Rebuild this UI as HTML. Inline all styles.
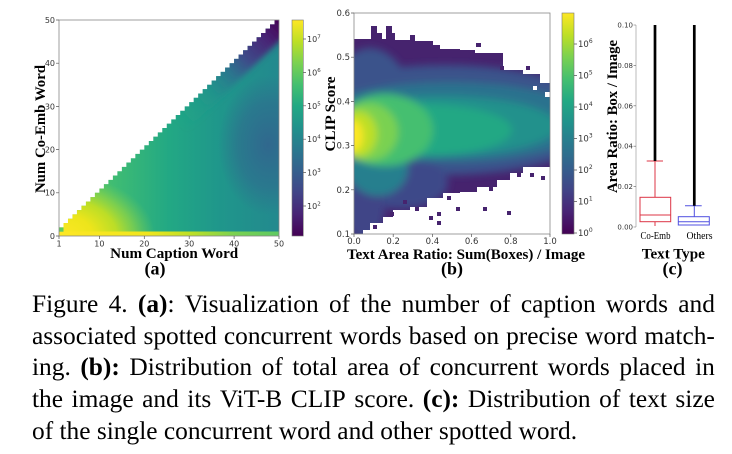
<!DOCTYPE html>
<html><head><meta charset="utf-8">
<style>
html,body{margin:0;padding:0;background:#fff;}
body{width:732px;height:454px;overflow:hidden;position:relative;}
.ln{position:absolute;left:32px;width:683px;height:31.7px;display:flex;justify-content:space-between;white-space:nowrap;font-family:"Liberation Serif",serif;font-size:25.4px;line-height:31.7px;color:#000;}
.ln2{position:absolute;left:32px;white-space:nowrap;font-family:"Liberation Serif",serif;font-size:25.4px;line-height:31.7px;color:#000;}
</style></head><body>
<svg width="732" height="290" viewBox="0 0 732 290" style="position:absolute;left:0;top:0">
<defs>
 <linearGradient id="vir" x1="0" y1="0" x2="0" y2="1">
  <stop offset="0" stop-color="#fde725"/><stop offset=".1" stop-color="#bddf26"/><stop offset=".2" stop-color="#7ad151"/><stop offset=".3" stop-color="#44bf70"/><stop offset=".4" stop-color="#22a884"/><stop offset=".5" stop-color="#21918c"/><stop offset=".6" stop-color="#2a788e"/><stop offset=".7" stop-color="#355f8d"/><stop offset=".8" stop-color="#414487"/><stop offset=".9" stop-color="#482475"/><stop offset="1" stop-color="#440154"/>
 </linearGradient>
 <clipPath id="clipA"><path d="M59,236V227.36h4.49v-4.32h4.49v-4.32h4.49v-4.32h4.49v-4.32h4.49v-4.32h4.49v-4.32h4.49v-4.32h4.49v-4.32h4.49v-4.32h4.49v-4.32h4.49v-4.32h4.49v-4.32h4.49v-4.32h4.49v-4.32h4.49v-4.32h4.49v-4.32h4.49v-4.32h4.49v-4.32h4.49v-4.32h4.49v-4.32h4.49v-4.32h4.49v-4.32h4.49v-4.32h4.49v-4.32h4.49v-4.32h4.49v-4.32h4.49v-4.32h4.49v-4.32h4.49v-4.32h4.49v-4.32h4.49v-4.32h4.49v-4.32h4.49v-4.32h4.49v-4.32h4.49v-4.32h4.49v-4.32h4.49v-4.32h4.49v-4.32h4.49v-4.32h4.49v-4.32h4.49v-4.32h4.49v-4.32h4.49v-4.32h4.49v-4.32h4.49v-4.32h4.49v-4.32h4.49v-4.32h4.49v-4.32H279V236Z"/></clipPath>
 <linearGradient id="aBase" gradientUnits="userSpaceOnUse" x1="59" y1="0" x2="279" y2="0">
  <stop offset="0" stop-color="#6ccd5a"/><stop offset=".25" stop-color="#3fbc73"/><stop offset=".5" stop-color="#22a884"/><stop offset=".72" stop-color="#1f978b"/><stop offset="1" stop-color="#23898e"/>
 </linearGradient>
 <radialGradient id="aBlue">
  <stop offset="0" stop-color="#31668e" stop-opacity=".95"/><stop offset=".6" stop-color="#2f6b8e" stop-opacity=".6"/><stop offset="1" stop-color="#2f6b8e" stop-opacity="0"/>
 </radialGradient>
 <linearGradient id="aDiag" gradientUnits="userSpaceOnUse" x1="175" y1="119" x2="279" y2="20">
  <stop offset="0" stop-color="#22a884" stop-opacity="0"/><stop offset=".3" stop-color="#21918c" stop-opacity=".5"/><stop offset=".5" stop-color="#2c728e" stop-opacity=".9"/><stop offset=".65" stop-color="#3e4a89"/><stop offset=".85" stop-color="#482475"/><stop offset="1" stop-color="#440154"/>
 </linearGradient>
 <radialGradient id="aYel">
  <stop offset="0" stop-color="#fde725"/><stop offset=".35" stop-color="#ede51b"/><stop offset=".6" stop-color="#c2df23" stop-opacity=".95"/><stop offset=".78" stop-color="#9fda3a" stop-opacity=".6"/><stop offset="1" stop-color="#7ad151" stop-opacity="0"/>
 </radialGradient>
 <linearGradient id="aBot" gradientUnits="userSpaceOnUse" x1="59" y1="0" x2="279" y2="0">
  <stop offset="0" stop-color="#fde725"/><stop offset=".4" stop-color="#f1e51d"/><stop offset=".6" stop-color="#bddf26"/><stop offset=".8" stop-color="#7ad151"/><stop offset="1" stop-color="#5ec962"/>
 </linearGradient>
 <filter id="blA" x="-20%" y="-20%" width="140%" height="140%"><feGaussianBlur stdDeviation="3"/></filter>
 <filter id="blB" x="-20%" y="-20%" width="140%" height="140%"><feGaussianBlur stdDeviation="4"/></filter>
 <clipPath id="clipB"><path d="M354,234V39H371V26H377V33H382V39H386V26H392V33H395V40H410V35H415V41H433V45H440V49H460V50H475V53H503V70H523V74H540V83H550V167H523V173H510V180H497V187H477V192H460V193H443V198H427V207H410V210H393V217H383V223H370V230H363V234Z"/></clipPath>
</defs>

<!-- Panel (a) -->
<g clip-path="url(#clipA)">
 <rect x="59" y="20" width="220" height="216" fill="url(#aBase)"/>
 <ellipse cx="268" cy="145" rx="50" ry="70" fill="url(#aBlue)"/>
 <line x1="175" y1="118.8" x2="290" y2="9" stroke="url(#aDiag)" stroke-width="32" filter="url(#blA)"/>
 <ellipse cx="60" cy="236" rx="95" ry="62" fill="url(#aYel)"/>
 <rect x="59" y="231.5" width="220" height="4.5" fill="url(#aBot)"/>
 <rect x="59" y="227.4" width="4.5" height="4.3" fill="#5ec962"/>
</g>
<rect x="59" y="20" width="220" height="216" fill="none" stroke="#888" stroke-width="0.8"/>
<g stroke="#555" stroke-width="0.7">
 <path d="M56,20H59M56,63.2H59M56,106.4H59M56,149.6H59M56,192.8H59M56,236H59"/>
 <path d="M59,236V239M99.4,236V239M144.3,236V239M189.2,236V239M234.1,236V239M279,236V239"/>
</g>
<g font-family="DejaVu Sans, sans-serif" font-size="8" fill="#333">
 <g text-anchor="end">
  <text x="55" y="23">50</text><text x="55" y="66">40</text><text x="55" y="109.3">30</text><text x="55" y="152.5">20</text><text x="55" y="195.7">10</text><text x="55" y="239">0</text>
 </g>
 <g text-anchor="middle">
  <text x="59" y="246.5">1</text><text x="99.4" y="246.5">10</text><text x="144.3" y="246.5">20</text><text x="189.2" y="246.5">30</text><text x="234.1" y="246.5">40</text><text x="279" y="246.5">50</text>
 </g>
</g>
<!-- colorbar (a) -->
<rect x="292" y="20" width="11.3" height="216" fill="url(#vir)" stroke="#777" stroke-width="0.6"/>
<g stroke="#555" stroke-width="0.7">
 <path d="M303.3,39H306M303.3,72.4H306M303.3,105.8H306M303.3,139.2H306M303.3,172.6H306M303.3,206H306"/>
</g>
<g font-family="DejaVu Sans, sans-serif" font-size="8" fill="#333">
 <text x="307" y="42">10<tspan dy="-3.5" font-size="5.5">7</tspan></text>
 <text x="307" y="75.4">10<tspan dy="-3.5" font-size="5.5">6</tspan></text>
 <text x="307" y="108.8">10<tspan dy="-3.5" font-size="5.5">5</tspan></text>
 <text x="307" y="142.2">10<tspan dy="-3.5" font-size="5.5">4</tspan></text>
 <text x="307" y="175.6">10<tspan dy="-3.5" font-size="5.5">3</tspan></text>
 <text x="307" y="209">10<tspan dy="-3.5" font-size="5.5">2</tspan></text>
</g>
<g font-family="Liberation Serif, serif" font-weight="bold" fill="#000">
 <text transform="translate(45,129) rotate(-90)" text-anchor="middle" font-size="15" textLength="128" lengthAdjust="spacingAndGlyphs">Num Co-Emb Word</text>
 <text x="174.2" y="258" text-anchor="middle" font-size="15" textLength="128" lengthAdjust="spacingAndGlyphs">Num Caption Word</text>
 <text x="155" y="274.5" text-anchor="middle" font-size="18">(a)</text>
</g>

<!-- Panel (b) -->
<g clip-path="url(#clipB)">
 <rect x="354" y="13" width="196" height="221" fill="#46236e"/>
 <g filter="url(#blB)">
  <ellipse cx="445" cy="120" rx="160" ry="55" fill="#3b528b"/>
  <ellipse cx="370" cy="130" rx="48" ry="82" fill="#3b528b"/>
  <ellipse cx="400" cy="183" rx="48" ry="26" fill="#3e4a89"/>
  <ellipse cx="365" cy="205" rx="20" ry="38" fill="#414487"/>
  <ellipse cx="450" cy="122" rx="140" ry="40" fill="#2c728e"/>
  <ellipse cx="378" cy="168" rx="30" ry="28" fill="#277f8e"/>
  <ellipse cx="440" cy="126" rx="118" ry="30" fill="#21918c"/>
  <ellipse cx="420" cy="130" rx="92" ry="26" fill="#22a884"/>
  <ellipse cx="385" cy="130" rx="48" ry="36" fill="#44bf70"/>
  <ellipse cx="368" cy="132" rx="30" ry="29" fill="#7ad151"/>
  <ellipse cx="358" cy="134" rx="19" ry="23" fill="#bddf26"/>
  <ellipse cx="353" cy="136" rx="10" ry="16" fill="#fde725"/>
 </g>
</g>
<g fill="#fff">
 <rect x="533" y="86" width="4" height="4"/><rect x="541" y="79" width="4" height="4"/><rect x="545" y="92" width="5" height="5"/>
</g>
<g fill="#46236e">
 <rect x="390" y="212" width="4" height="4"/><rect x="403" y="200" width="4" height="4"/><rect x="429" y="216" width="4" height="4"/>
 <rect x="437" y="212" width="4" height="4"/><rect x="437" y="221" width="4" height="4"/><rect x="456" y="207" width="4" height="4"/>
 <rect x="483" y="207" width="4" height="4"/><rect x="507" y="211" width="4" height="4"/><rect x="530" y="173" width="4" height="4"/>
 <rect x="541" y="176" width="4" height="4"/><rect x="373" y="225" width="4" height="4"/><rect x="476" y="43" width="5" height="4"/>
 <rect x="500" y="66" width="4" height="4"/><rect x="526" y="66" width="4" height="4"/><rect x="415" y="207" width="4" height="4"/>
 <rect x="447" y="196" width="4" height="4"/><rect x="489" y="187" width="4" height="4"/><rect x="517" y="173" width="4" height="4"/>
</g>
<rect x="354" y="13" width="196" height="221" fill="none" stroke="#888" stroke-width="0.8"/>
<g stroke="#555" stroke-width="0.7">
 <path d="M351,13H354M351,57.2H354M351,101.4H354M351,145.6H354M351,189.8H354M351,234H354"/>
 <path d="M354,234V237M393.2,234V237M432.4,234V237M471.6,234V237M510.8,234V237M550,234V237"/>
</g>
<g font-family="DejaVu Sans, sans-serif" font-size="8.5" fill="#333">
 <g text-anchor="end">
  <text x="350" y="16">0.6</text><text x="350" y="60.2">0.5</text><text x="350" y="104.4">0.4</text><text x="350" y="148.6">0.3</text><text x="350" y="192.8">0.2</text><text x="350" y="237">0.1</text>
 </g>
 <g text-anchor="middle">
  <text x="354" y="244">0.0</text><text x="393.2" y="244">0.2</text><text x="432.4" y="244">0.4</text><text x="471.6" y="244">0.6</text><text x="510.8" y="244">0.8</text><text x="550" y="244">1.0</text>
 </g>
</g>
<!-- colorbar (b) -->
<rect x="562" y="13" width="12" height="221" fill="url(#vir)" stroke="#777" stroke-width="0.6"/>
<g stroke="#555" stroke-width="0.7">
 <path d="M574,44H577M574,75.5H577M574,107H577M574,138.5H577M574,170H577M574,201.5H577M574,233H577"/>
</g>
<g font-family="DejaVu Sans, sans-serif" font-size="8.5" fill="#333">
 <text x="578" y="47">10<tspan dy="-3.8" font-size="6">6</tspan></text>
 <text x="578" y="78.5">10<tspan dy="-3.8" font-size="6">5</tspan></text>
 <text x="578" y="110">10<tspan dy="-3.8" font-size="6">4</tspan></text>
 <text x="578" y="141.5">10<tspan dy="-3.8" font-size="6">3</tspan></text>
 <text x="578" y="173">10<tspan dy="-3.8" font-size="6">2</tspan></text>
 <text x="578" y="204.5">10<tspan dy="-3.8" font-size="6">1</tspan></text>
 <text x="578" y="236">10<tspan dy="-3.8" font-size="6">0</tspan></text>
</g>
<g font-family="Liberation Serif, serif" font-weight="bold" fill="#000">
 <text transform="translate(335,114) rotate(-90)" text-anchor="middle" font-size="15" textLength="75" lengthAdjust="spacingAndGlyphs">CLIP Score</text>
 <text x="466" y="259" text-anchor="middle" font-size="15" textLength="238" lengthAdjust="spacingAndGlyphs">Text Area Ratio: Sum(Boxes) / Image</text>
 <text x="452" y="274.5" text-anchor="middle" font-size="18">(b)</text>
</g>

<!-- Panel (c) -->
<line x1="636" y1="25" x2="636" y2="227" stroke="#aaa" stroke-width="0.8"/>
<g stroke="#666" stroke-width="0.6">
 <path d="M633.5,25H636M633.5,65.4H636M633.5,105.8H636M633.5,146.2H636M633.5,186.6H636M633.5,227H636"/>
</g>
<g font-family="DejaVu Sans, sans-serif" font-size="7" fill="#333" text-anchor="end">
 <text x="633" y="27.5">0.10</text><text x="633" y="67.9">0.08</text><text x="633" y="108.3">0.06</text><text x="633" y="148.7">0.04</text><text x="633" y="189.1">0.02</text><text x="633" y="229.5">0.00</text>
</g>
<g stroke="#dc3545" stroke-width="1" fill="none">
 <rect x="640" y="197.3" width="30.7" height="24.4"/>
 <line x1="640" y1="215" x2="670.7" y2="215"/>
 <line x1="655" y1="197.3" x2="655" y2="161"/>
 <line x1="646.7" y1="161" x2="663" y2="161"/>
 <line x1="655" y1="221.7" x2="655" y2="226"/>
</g>
<line x1="655" y1="25" x2="655" y2="161" stroke="#000" stroke-width="2.7"/>
<g stroke="#5050e0" stroke-width="1" fill="none">
 <rect x="678.3" y="216.7" width="31" height="8.3"/>
 <line x1="678.3" y1="221.7" x2="709.3" y2="221.7"/>
 <line x1="694.3" y1="216.7" x2="694.3" y2="205.7"/>
 <line x1="685" y1="205.7" x2="701.7" y2="205.7"/>
</g>
<line x1="694.3" y1="25" x2="694.3" y2="205.7" stroke="#000" stroke-width="2.7"/>
<g font-family="Liberation Serif, serif" fill="#000" font-size="10" text-anchor="middle">
 <text x="655.5" y="239" textLength="30" lengthAdjust="spacingAndGlyphs">Co-Emb</text>
 <text x="699.5" y="239" textLength="26" lengthAdjust="spacingAndGlyphs">Others</text>
</g>
<g font-family="Liberation Serif, serif" font-weight="bold" fill="#000">
 <text transform="translate(617,116.5) rotate(-90)" text-anchor="middle" font-size="15" textLength="153" lengthAdjust="spacingAndGlyphs">Area Ratio: Box / Image</text>
 <text x="673.3" y="258.5" text-anchor="middle" font-size="15" textLength="63" lengthAdjust="spacingAndGlyphs">Text Type</text>
 <text x="672.5" y="274.5" text-anchor="middle" font-size="18">(c)</text>
</g>
</svg>

<div class="ln" style="top:289px"><span>Figure</span><span>4.</span><span><b>(a)</b>:</span><span>Visualization</span><span>of</span><span>the</span><span>number</span><span>of</span><span>caption</span><span>words</span><span>and</span></div>
<div class="ln" style="top:320.7px"><span>associated</span><span>spotted</span><span>concurrent</span><span>words</span><span>based</span><span>on</span><span>precise</span><span>word</span><span>match-</span></div>
<div class="ln" style="top:352.4px"><span>ing.</span><span><b>(b):</b></span><span>Distribution</span><span>of</span><span>total</span><span>area</span><span>of</span><span>concurrent</span><span>words</span><span>placed</span><span>in</span></div>
<div class="ln" style="top:384.1px"><span>the</span><span>image</span><span>and</span><span>its</span><span>ViT-B</span><span>CLIP</span><span>score.</span><span><b>(c):</b></span><span>Distribution</span><span>of</span><span>text</span><span>size</span></div>
<div class="ln2" style="top:415.8px">of the single concurrent word and other spotted word.</div>
</body></html>
